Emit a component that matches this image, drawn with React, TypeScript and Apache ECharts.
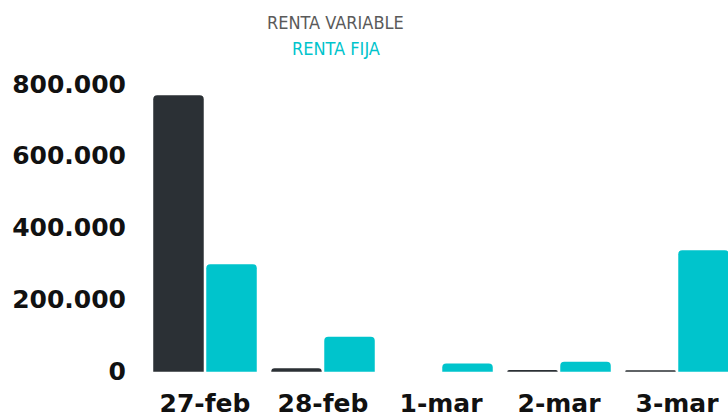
import React, { useEffect, useRef } from "react";
import * as echarts from "echarts";

const categories = ["27-feb", "28-feb", "1-mar", "2-mar", "3-mar"];
const rentaVariable = [769000, 9500, 0, 5000, 4000];
const rentaFija = [299000, 97000, 23000, 28000, 338000];
const yTicks = [0, 200000, 400000, 600000, 800000];

const DARK = "#2b3035";
const CYAN = "#00c4cc";

function fmt(v: number): string {
  return String(Math.round(v)).replace(/\B(?=(\d{3})+(?!\d))/g, ".");
}

export default function App() {
  const ref = useRef<HTMLDivElement>(null);
  useEffect(() => {
    if (!ref.current) return;
    const chart = echarts.init(ref.current, undefined, { renderer: "svg" });
    const legendText = {
      fontFamily: "DejaVu Sans Condensed, DejaVu Sans, sans-serif",
      fontSize: 18,
    };
    chart.setOption({
      animation: false,
      backgroundColor: "#ffffff",
      legend: [
        {
          orient: "vertical",
          left: 262,
          top: 13,
          padding: 0,
          itemWidth: 0,
          itemHeight: 0,
          icon: "rect",
          selectedMode: false,
          data: [{ name: "RENTA VARIABLE", textStyle: { ...legendText, color: "#5a5a5a" } }],
        },
        {
          orient: "vertical",
          left: 287,
          top: 39,
          padding: 0,
          itemWidth: 0,
          itemHeight: 0,
          icon: "rect",
          selectedMode: false,
          data: [{ name: "RENTA FIJA", textStyle: { ...legendText, color: CYAN } }],
        },
      ],
      grid: { left: 146, right: 0, top: 84, bottom: 46.3, containLabel: false },
      xAxis: {
        type: "category",
        data: categories,
        axisLine: { show: false },
        axisTick: { show: false },
        axisLabel: {
          margin: 19,
          color: "#111",
          fontFamily: "DejaVu Sans",
          fontWeight: "bold",
          fontSize: 25,
          interval: 0,
        },
      },
      yAxis: {
        type: "value",
        min: yTicks[0],
        max: yTicks[yTicks.length - 1],
        interval: yTicks[1] - yTicks[0],
        axisLine: { show: false },
        axisTick: { show: false },
        splitLine: { show: false },
        axisLabel: {
          margin: 20,
          color: "#111",
          fontFamily: "DejaVu Sans",
          fontWeight: "bold",
          fontSize: 25,
          formatter: (v: number) => fmt(v),
        },
      },
      series: [
        {
          name: "RENTA VARIABLE",
          type: "bar",
          data: rentaVariable,
          barWidth: 50.5,
          barGap: "5%",
          itemStyle: { color: DARK, borderRadius: [4, 4, 0, 0] },
        },
        {
          name: "RENTA FIJA",
          type: "bar",
          data: rentaFija,
          barWidth: 50.5,
          barGap: "5%",
          itemStyle: { color: CYAN, borderRadius: [4, 4, 0, 0] },
        },
      ],
    });
    return () => chart.dispose();
  }, []);
  return (
    <div
      style={{
        position: "absolute",
        left: 0,
        top: 0,
        width: 728,
        height: 418,
        overflow: "hidden",
      }}
    >
      <div ref={ref} style={{ width: 736, height: 418 }} />
    </div>
  );
}
